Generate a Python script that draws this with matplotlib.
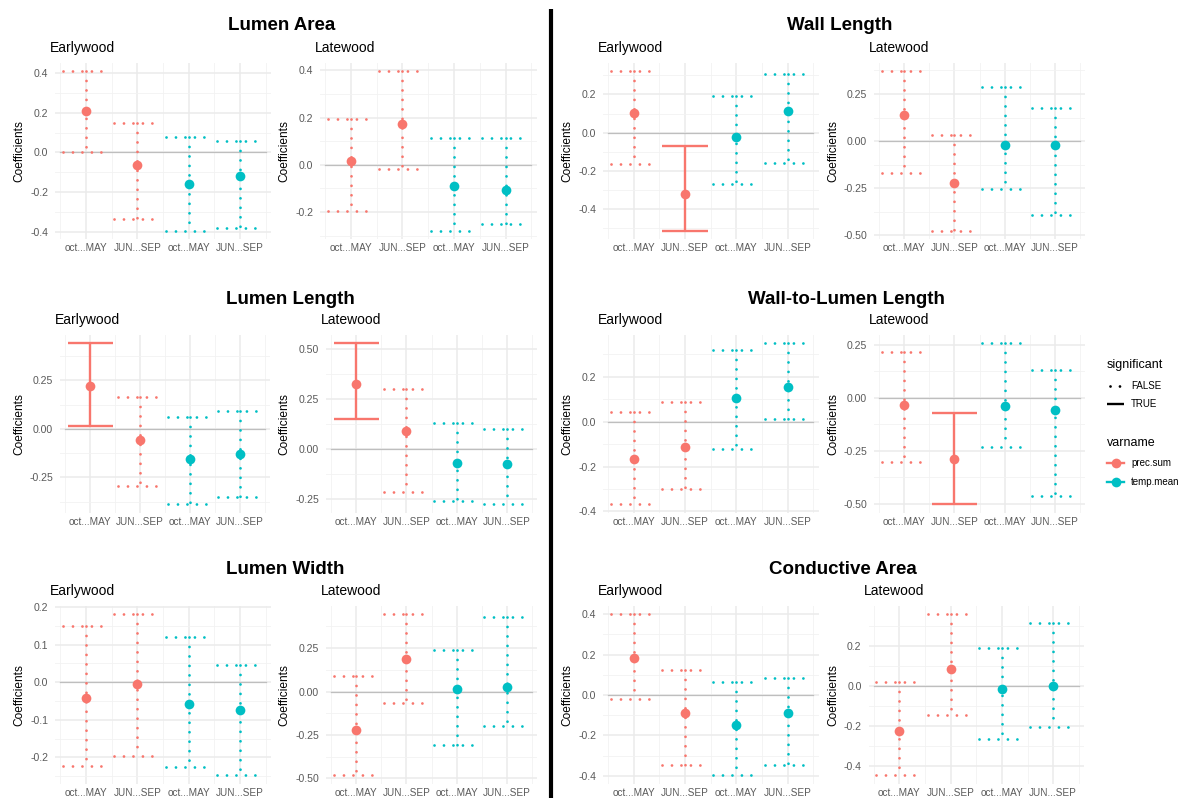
import matplotlib
matplotlib.use('Agg')
import matplotlib.pyplot as plt
from matplotlib.ticker import MultipleLocator, FormatStrFormatter
import numpy as np

plt.rcParams['font.family'] = ['Liberation Sans', 'DejaVu Sans']
plt.rcParams['axes.unicode_minus'] = True

periods = ['oct...MAY', 'JUN...SEP', 'oct...MAY', 'JUN...SEP']
varname = ['prec.sum', 'prec.sum', 'temp.mean', 'temp.mean']
colors = {'prec.sum': '#F8766D', 'temp.mean': '#00BFC4'}

# Lumen Area
la_ew_est = [0.212, -0.064, -0.158, -0.118]
la_ew_lo = [0.0, -0.336, -0.397, -0.381]
la_ew_hi = [0.412, 0.151, 0.079, 0.059]
la_ew_sig = [False, False, False, False]
la_lw_est = [0.018, 0.173, -0.089, -0.108]
la_lw_lo = [-0.194, -0.018, -0.28, -0.249]
la_lw_hi = [0.194, 0.397, 0.115, 0.115]
la_lw_sig = [False, False, False, False]

# Wall Length
wl_ew_est = [0.103, -0.323, -0.023, 0.113]
wl_ew_lo = [-0.165, -0.515, -0.268, -0.157]
wl_ew_hi = [0.323, -0.071, 0.19, 0.306]
wl_ew_sig = [False, True, False, False]
wl_lw_est = [0.136, -0.220, -0.023, -0.023]
wl_lw_lo = [-0.167, -0.477, -0.254, -0.393]
wl_lw_hi = [0.372, 0.030, 0.289, 0.174]
wl_lw_sig = [False, False, False, False]

# Lumen Length
ll_ew_est = [0.219, -0.057, -0.155, -0.128]
ll_ew_lo = [0.017, -0.295, -0.39, -0.35]
ll_ew_hi = [0.443, 0.167, 0.06, 0.091]
ll_ew_sig = [True, False, False, False]
ll_lw_est = [0.327, 0.092, -0.072, -0.073]
ll_lw_lo = [0.148, -0.217, -0.262, -0.277]
ll_lw_hi = [0.53, 0.298, 0.128, 0.10]
ll_lw_sig = [True, False, False, False]

# Wall-to-Lumen Length
wll_ew_est = [-0.167, -0.111, 0.105, 0.153]
wll_ew_lo = [-0.369, -0.30, -0.12, 0.01]
wll_ew_hi = [0.044, 0.086, 0.318, 0.35]
wll_ew_sig = [False, False, False, False]
wll_lw_est = [-0.035, -0.288, -0.041, -0.057]
wll_lw_lo = [-0.303, -0.503, -0.234, -0.462]
wll_lw_hi = [0.217, -0.071, 0.258, 0.132]
wll_lw_sig = [False, True, False, False]

# Lumen Width
lw_ew_est = [-0.041, -0.004, -0.058, -0.074]
lw_ew_lo = [-0.222, -0.196, -0.225, -0.248]
lw_ew_hi = [0.150, 0.181, 0.119, 0.045]
lw_ew_sig = [False, False, False, False]
lw_lw_est = [-0.221, 0.19, 0.017, 0.027]
lw_lw_lo = [-0.483, -0.065, -0.306, -0.196]
lw_lw_hi = [0.087, 0.446, 0.238, 0.431]
lw_lw_sig = [False, False, False, False]

# Conductive Area
ca_ew_est = [0.183, -0.091, -0.147, -0.091]
ca_ew_lo = [-0.018, -0.345, -0.398, -0.345]
ca_ew_hi = [0.40, 0.124, 0.063, 0.084]
ca_ew_sig = [False, False, False, False]
ca_lw_est = [-0.224, 0.085, -0.017, -0.002]
ca_lw_lo = [-0.445, -0.143, -0.264, -0.206]
ca_lw_hi = [0.018, 0.357, 0.188, 0.314]
ca_lw_sig = [False, False, False, False]

W, H = 1180, 798
fig = plt.figure(figsize=(W / 100, H / 100), dpi=100)

DOT = (0, (0.01, 3.4))
LWID = 1.7
DOTW = 2.0


def style(sig):
    if sig:
        return dict(lw=LWID, ls='-', solid_capstyle='butt')
    return dict(lw=DOTW, ls=DOT, dash_capstyle='round')


def add_panel(box, est, lo, hi, sig, step, sub, lab_x):
    l, t, r, b = box
    ax = fig.add_axes([l / W, 1 - b / H, (r - l) / W, (b - t) / H])
    x = np.arange(1, len(periods) + 1)
    for i in range(len(x)):
        c = colors[varname[i]]
        kw = dict(color=c, zorder=3, **style(sig[i]))
        ax.plot([x[i] - 0.45, x[i] + 0.45], [hi[i], hi[i]], **kw)
        ax.plot([x[i], x[i]], [hi[i], lo[i]], **kw)
        ax.plot([x[i] - 0.45, x[i] + 0.45], [lo[i], lo[i]], **kw)
        ax.plot(x[i], est[i], 'o', color=c, ms=7, mec='none', zorder=4)
    ax.plot([0.5, 4.5], [0, 0], color='#BEBEBE', lw=0.9, zorder=2)
    ax.margins(y=0.05)
    ax.set_xlim(0.4, 4.6)
    ax.set_xticks(x)
    ax.set_xticklabels(periods)
    ax.xaxis.set_minor_locator(MultipleLocator(0.5))
    ax.yaxis.set_major_locator(MultipleLocator(step))
    ax.yaxis.set_minor_locator(MultipleLocator(step / 2))
    ax.yaxis.set_major_formatter(FormatStrFormatter('%.2f' if step == 0.25 else '%.1f'))
    ax.grid(which='major', color='#EBEBEB', lw=1.1, zorder=0)
    ax.grid(which='minor', color='#F2F2F2', lw=0.6, zorder=0)
    ax.set_axisbelow(True)
    for s in ax.spines.values():
        s.set_visible(False)
    ax.tick_params(which='both', length=0)
    ax.tick_params(axis='x', labelsize=7.2, labelcolor='#5A5A5A', pad=3)
    ax.tick_params(axis='y', labelsize=7.6, labelcolor='#5A5A5A', pad=5)
    ax.set_ylabel('Coefficients', fontsize=8.6, va='center')
    ax.yaxis.set_label_coords((lab_x - l) / (r - l), 0.5)
    ov.text(l - 5, t - 15, sub, fontsize=10, ha='left', va='center')
    return ax


# overlay for titles, separator and legend (pixel coordinates)
ov = fig.add_axes([0, 0, 1, 1])
ov.set_xlim(0, W)
ov.set_ylim(H, 0)
ov.axis('off')

rows = [(63, 239), (335, 512.5), (606, 783.5)]
cols = [
    [(55, 271), (320, 536.5), (603, 818.5), (874, 1085)],
    [(60, 270), (326, 537), (603, 818.5), (874, 1085)],
    [(55, 271), (326, 537), (603, 818.5), (868.5, 1084)],
]
lab_xs = [19.5, 284, 567, 833]
subs = ['Earlywood', 'Latewood', 'Earlywood', 'Latewood']

panels = [
    [(la_ew_est, la_ew_lo, la_ew_hi, la_ew_sig, 0.2), (la_lw_est, la_lw_lo, la_lw_hi, la_lw_sig, 0.2),
     (wl_ew_est, wl_ew_lo, wl_ew_hi, wl_ew_sig, 0.2), (wl_lw_est, wl_lw_lo, wl_lw_hi, wl_lw_sig, 0.25)],
    [(ll_ew_est, ll_ew_lo, ll_ew_hi, ll_ew_sig, 0.25), (ll_lw_est, ll_lw_lo, ll_lw_hi, ll_lw_sig, 0.25),
     (wll_ew_est, wll_ew_lo, wll_ew_hi, wll_ew_sig, 0.2), (wll_lw_est, wll_lw_lo, wll_lw_hi, wll_lw_sig, 0.25)],
    [(lw_ew_est, lw_ew_lo, lw_ew_hi, lw_ew_sig, 0.1), (lw_lw_est, lw_lw_lo, lw_lw_hi, lw_lw_sig, 0.25),
     (ca_ew_est, ca_ew_lo, ca_ew_hi, ca_ew_sig, 0.2), (ca_lw_est, ca_lw_lo, ca_lw_hi, ca_lw_sig, 0.2)],
]

for ri, (t, b) in enumerate(rows):
    for ci in range(4):
        l, r = cols[ri][ci]
        est, lo, hi, sig, step = panels[ri][ci]
        add_panel((l, t, r, b), est, lo, hi, sig, step, subs[ci], lab_xs[ci])

titles = [('Lumen Area', 282, 25), ('Wall Length', 840, 25),
          ('Lumen Length', 290, 299), ('Wall-to-Lumen Length', 846, 300),
          ('Lumen Width', 285, 570), ('Conductive Area', 843, 570)]
for txt, x, y in titles:
    ov.text(x, y, txt, fontsize=13.5, fontweight='bold', ha='center', va='center')

# separator
ov.plot([550.7, 550.7], [9, 798], color='black', lw=3, solid_capstyle='butt')

# legend
ov.text(1107, 365, 'significant', fontsize=9.0, ha='left', va='center')
ov.plot([1110, 1124], [386, 386], color='black', **style(False))
ov.text(1131, 386, 'FALSE', fontsize=7.0, ha='left', va='center')
ov.plot([1107, 1124], [404, 404], color='black', **style(True))
ov.text(1131, 404, 'TRUE', fontsize=7.0, ha='left', va='center')
ov.text(1107, 443, 'varname', fontsize=9.0, ha='left', va='center')
for name, y in [('prec.sum', 463), ('temp.mean', 482)]:
    ov.plot([1107, 1124], [y, y], color=colors[name], lw=LWID)
    ov.plot(1115.5, y, 'o', color=colors[name], ms=7, mec='none')
    ov.text(1131, y, name, fontsize=7.0, ha='left', va='center')

fig.savefig('out.png', dpi=100)
